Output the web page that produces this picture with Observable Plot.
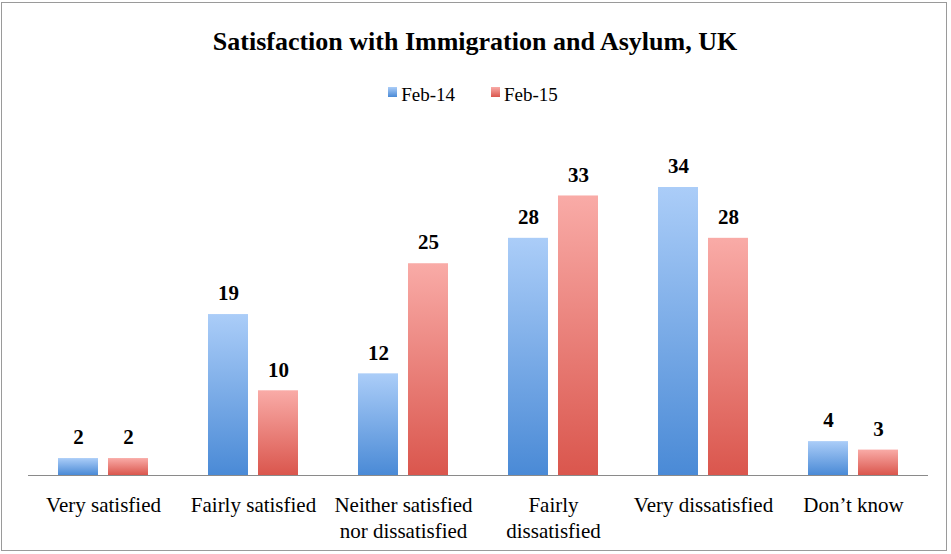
<!DOCTYPE html>
<html>
<head>
<meta charset="utf-8">
<script src="https://cdn.jsdelivr.net/npm/d3@7"></script>
<script src="https://cdn.jsdelivr.net/npm/@observablehq/plot@0.6"></script>
<style>
  html, body { margin: 0; padding: 0; background: #fff; }
  #frame { position: absolute; left: 1px; top: 2px; width: 946px; height: 549px; border: 1.5px solid #9a9a9a; box-sizing: border-box; background: #fff; }
  #title { position: absolute; left: 0; top: 26px; width: 950px; text-align: center; font-family: "Liberation Serif", "Times New Roman", Times, "DejaVu Serif", serif; font-weight: bold; font-size: 26px; line-height: 32px; color: #000; }
  #legend { position: absolute; left: 0; top: 84px; width: 946px; text-align: center; font-family: "Liberation Serif", "Times New Roman", Times, "DejaVu Serif", serif; font-size: 19px; line-height: 22px; color: #000; }
  .item { display: inline-block; margin: 0 18px; }
  .sw { display: inline-block; width: 9px; height: 10px; margin-right: 4px; vertical-align: 4px; }
  #chart { position: absolute; left: 0; top: 120px; }
  #chart svg text { font-family: "Liberation Serif", "Times New Roman", Times, "DejaVu Serif", serif; }
</style>
</head>
<body>
<div id="frame"></div>
<div id="title">Satisfaction with Immigration and Asylum, UK</div>
<div id="legend"></div>
<div id="chart"></div>
<script>
const categories = ["Very satisfied", "Fairly satisfied", "Neither satisfied nor dissatisfied", "Fairly dissatisfied", "Very dissatisfied", "Don’t know"];
const tickLabels = ["Very satisfied", "Fairly satisfied", "Neither satisfied\nnor dissatisfied", "Fairly\ndissatisfied", "Very dissatisfied", "Don’t know"];
const series = ["Feb-14", "Feb-15"];
const feb14 = [2, 19, 12, 28, 34, 4];
const feb15 = [2, 10, 25, 33, 28, 3];

const data = [];
categories.forEach((c, i) => {
  data.push({category: c, series: series[0], value: feb14[i]});
  data.push({category: c, series: series[1], value: feb15[i]});
});
const labelRows = categories.map((c, i) => ({category: c, label: tickLabels[i]}));

const grads = {"Feb-14": ["#abcdf8", "#4a8ad6"], "Feb-15": ["#f9aba7", "#da564d"]};

const plot = Plot.plot({
  width: 951,
  height: 430,
  marginLeft: 27,
  marginRight: 23,
  marginTop: 67,
  marginBottom: 75,
  fx: {domain: categories, padding: 0, axis: null},
  x: {domain: series, paddingInner: 0.2, paddingOuter: 0.6, axis: null},
  y: {domain: [0, 34], axis: null},
  color: {domain: series, range: ["url(#gB)", "url(#gR)"]},
  style: {fontFamily: "'Liberation Serif', 'Times New Roman', Times, 'DejaVu Serif', serif", background: "transparent"},
  marks: [
    Plot.barY(data, {fx: "category", x: "series", y: "value", fill: "series"}),
    Plot.ruleY([0], {stroke: "#8a8a8a", strokeWidth: 1.2}),
    Plot.text(data, {fx: "category", x: "series", y: "value", text: d => String(d.value), dy: -21, fontSize: 21, fontWeight: "bold", fill: "#000"}),
    Plot.text(labelRows, {fx: "category", text: "label", frameAnchor: "bottom", lineAnchor: "top", dy: 19, fontSize: 21, lineHeight: 1.2, fill: "#000"})
  ]
});

const svg = d3.select(plot);
const defs = svg.insert("defs", ":first-child");
[["gB", grads["Feb-14"]], ["gR", grads["Feb-15"]]].forEach(([id, [top, bottom]]) => {
  const g = defs.append("linearGradient").attr("id", id).attr("x1", 0).attr("y1", 0).attr("x2", 0).attr("y2", 1);
  g.append("stop").attr("offset", "0%").attr("stop-color", top);
  g.append("stop").attr("offset", "100%").attr("stop-color", bottom);
});
document.getElementById("chart").appendChild(plot);

const legend = document.getElementById("legend");
series.forEach(s => {
  const item = document.createElement("span");
  item.className = "item";
  const sw = document.createElement("span");
  sw.className = "sw";
  sw.style.background = `linear-gradient(${grads[s][0]}, ${grads[s][1]})`;
  item.appendChild(sw);
  item.appendChild(document.createTextNode(s));
  legend.appendChild(item);
});
</script>
</body>
</html>
